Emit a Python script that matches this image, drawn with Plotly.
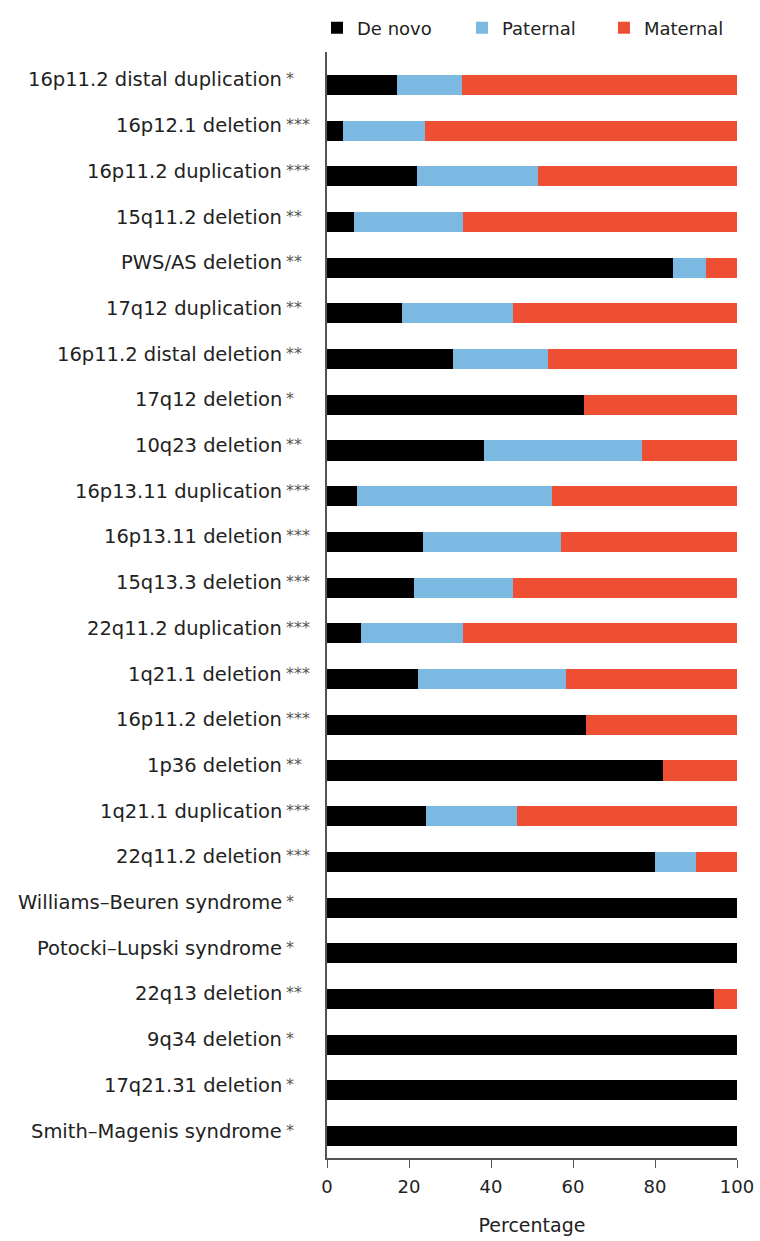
import plotly.graph_objects as go

# Copy-number variants, top to bottom, with significance stars
variants = [
    "16p11.2 distal duplication", "16p12.1 deletion", "16p11.2 duplication",
    "15q11.2 deletion", "PWS/AS deletion", "17q12 duplication",
    "16p11.2 distal deletion", "17q12 deletion", "10q23 deletion",
    "16p13.11 duplication", "16p13.11 deletion", "15q13.3 deletion",
    "22q11.2 duplication", "1q21.1 deletion", "16p11.2 deletion",
    "1p36 deletion", "1q21.1 duplication", "22q11.2 deletion",
    "Williams\u2013Beuren syndrome", "Potocki\u2013Lupski syndrome",
    "22q13 deletion", "9q34 deletion", "17q21.31 deletion",
    "Smith\u2013Magenis syndrome",
]
stars = [
    "*", "***", "***", "**", "**", "**", "**", "*", "**", "***", "***", "***",
    "***", "***", "***", "**", "***", "***", "*", "*", "**", "*", "*", "*",
]

# Percentage of carriers by inheritance
de_novo = [17, 4, 22, 6.5, 84.5, 18.3, 30.7, 62.6, 38.4, 7.2, 23.4, 21.2,
           8.2, 22.1, 63.2, 82, 24.2, 80, 100, 100, 94.5, 100, 100, 100]
paternal = [16, 20, 29.5, 26.7, 8, 27, 23.1, 0, 38.5, 47.7, 33.6, 24.2,
            25, 36.2, 0, 0, 22.1, 10, 0, 0, 0, 0, 0, 0]
maternal = [67, 76, 48.5, 66.8, 7.5, 54.7, 46.2, 37.4, 23.1, 45.1, 43, 54.6,
            66.8, 41.7, 36.8, 18, 53.7, 10, 0, 0, 5.5, 0, 0, 0]

x_ticks = [0, 20, 40, 60, 80, 100]

FONT = "'DejaVu Sans', sans-serif"
TEXT = "#222222"

series = [
    ("De novo", de_novo, "#000000", "legend", 0.4171),
    ("Paternal", paternal, "#7cb9e2", "legend2", 0.6079),
    ("Maternal", maternal, "#ee4f32", "legend3", 0.7947),
]

fig = go.Figure()
legend_layouts = {}
for name, vals, color, leg, lx in series:
    fig.add_trace(go.Bar(
        y=list(range(len(variants))), x=vals, name=name, orientation="h",
        marker=dict(color=color, line=dict(width=0)),
        hoverinfo="x+name", legend=leg, showlegend=True,
    ))
    # one legend box per series so the three keys sit on a single row
    legend_layouts[leg] = dict(
        visible=True,
        orientation="h", xref="container", yref="container",
        x=lx, xanchor="left", y=0.9774, yanchor="middle",
        font=dict(family=FONT, size=18, color=TEXT),
        itemwidth=30, bgcolor="rgba(0,0,0,0)",
    )

# Row labels right-aligned, stars hanging to the right as superscripts
annotations = []
for i, (lab, st) in enumerate(zip(variants, stars)):
    annotations.append(dict(
        x=-0.106, y=i, xref="paper", yref="y", text=lab, showarrow=False,
        xanchor="right", yanchor="middle", yshift=5,
        font=dict(family=FONT, size=19.5, color=TEXT),
    ))
    annotations.append(dict(
        x=-0.106, y=i, xref="paper", yref="y", text=st, showarrow=False,
        xanchor="left", yanchor="middle", yshift=6, xshift=0,
        font=dict(family=FONT, size=16, color="#555555"),
    ))

fig.update_layout(
    barmode="stack",
    bargap=0.56,
    showlegend=True,
    width=760, height=1241,
    margin=dict(l=326.5, r=23, t=52, b=83, autoexpand=False),
    paper_bgcolor="white", plot_bgcolor="white",
    font=dict(family=FONT, size=18, color=TEXT),
    annotations=annotations,
    xaxis=dict(
        range=[0, 100], tickvals=x_ticks, ticks="outside", ticklen=8,
        tickcolor="#555555", showline=True, linecolor="#555555",
        linewidth=1.5, showgrid=False, zeroline=False,
        ticklabelstandoff=4,
        tickfont=dict(family=FONT, size=18, color=TEXT),
        title=dict(text="Percentage", standoff=22,
                   font=dict(family=FONT, size=19, color=TEXT)),
    ),
    yaxis=dict(
        range=[23.48, -0.72], showticklabels=False, ticks="",
        showline=True, linecolor="#555555", linewidth=1.5,
        showgrid=False, zeroline=False,
    ),
    **legend_layouts,
)

fig.write_html("out.html")
